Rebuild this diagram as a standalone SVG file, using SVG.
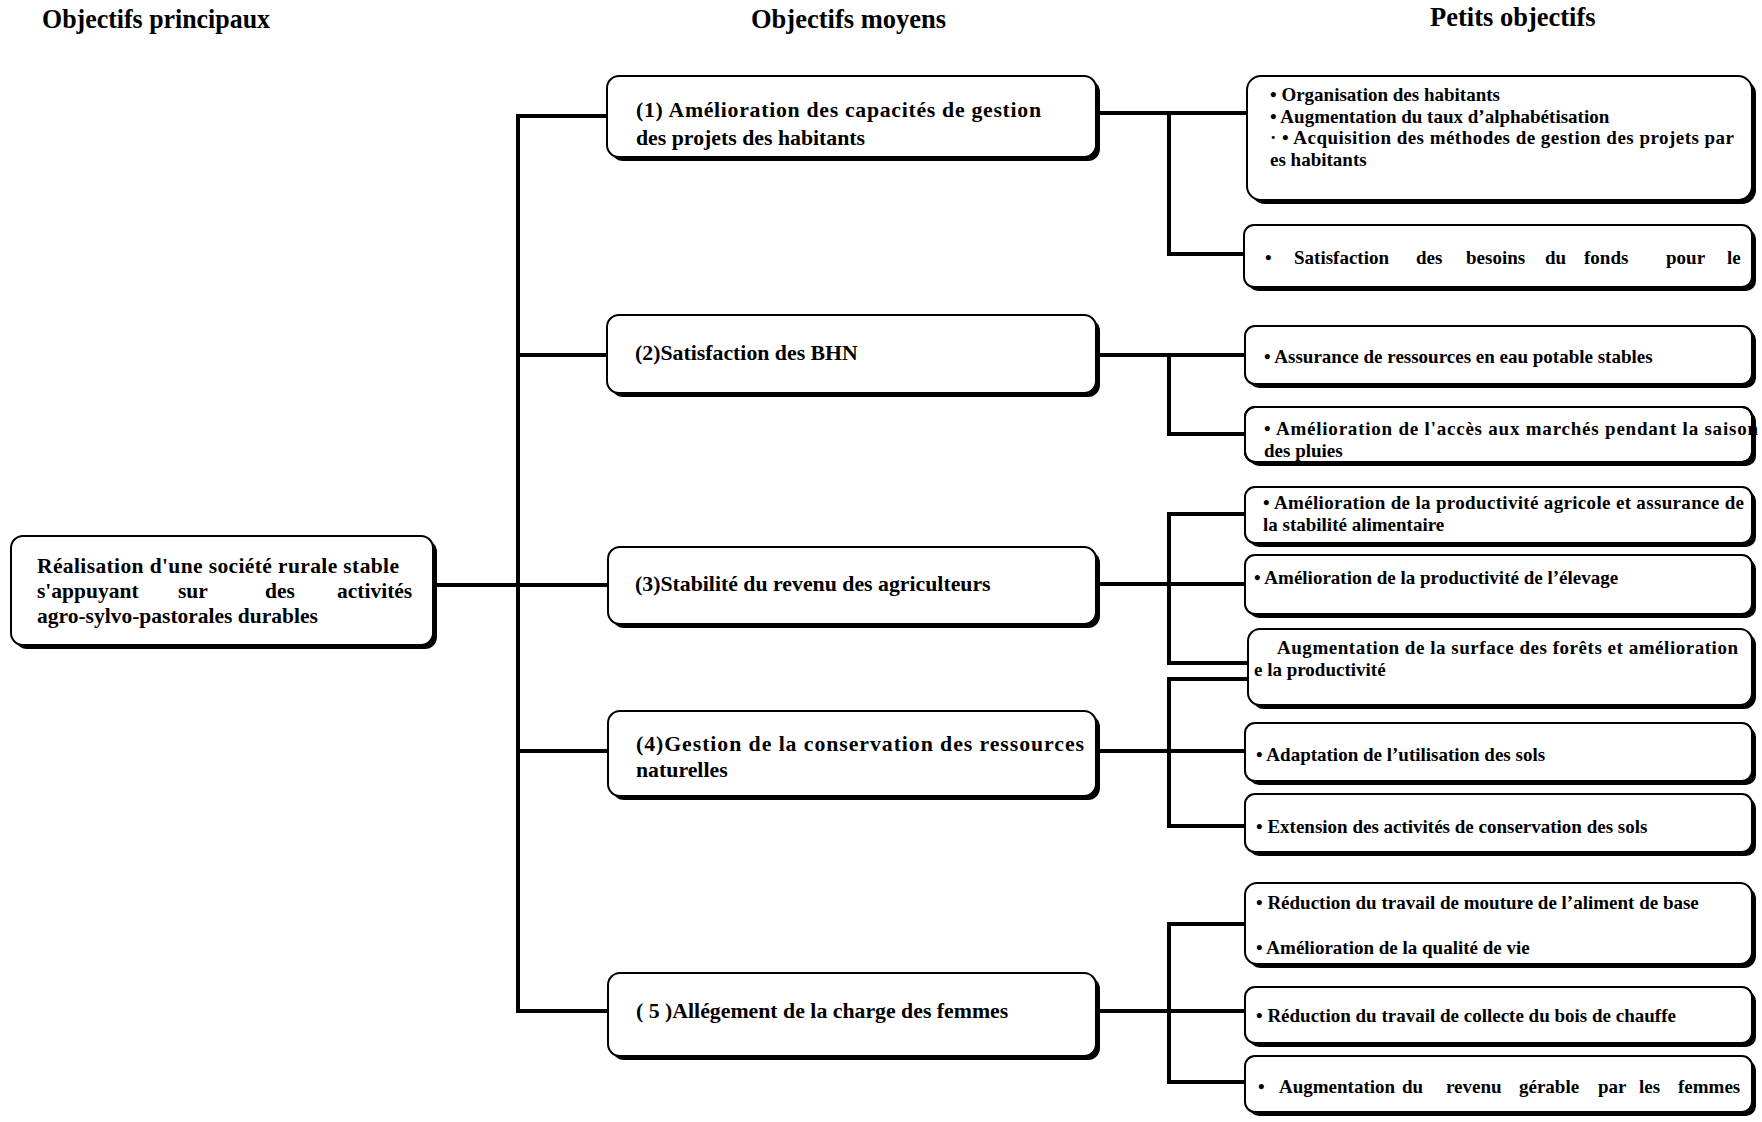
<svg xmlns="http://www.w3.org/2000/svg" width="1762" height="1122" viewBox="0 0 1762 1122">
<style>
.sh{fill:#000}
.bx{fill:#fff;stroke:#000;stroke-width:2}
.bo{fill:none;stroke:#000;stroke-width:2}
.t{font-family:"Liberation Serif","Times New Roman",serif;font-weight:bold;fill:#000}
.ti{font-size:26.5px}
.mm{font-size:21.5px}
.m{font-size:21.8px}
.s{font-size:19px}
.c{stroke:#000;stroke-width:4;fill:none;stroke-linecap:square}
</style>
<rect width="1762" height="1122" fill="#fff"/>
<g id="titles">
<text class="t ti" x="42" y="28" textLength="228" lengthAdjust="spacingAndGlyphs">Objectifs principaux</text>
<text class="t ti" x="751" y="28">Objectifs moyens</text>
<text class="t ti" x="1430" y="26">Petits objectifs</text>
</g>
<g id="connectors">
<path class="c" d="M433,585 H607"/>
<path class="c" d="M518,116 V1011"/>
<path class="c" d="M518,116 H607 M518,355 H607 M518,751 H608 M518,1011 H608"/>
<path class="c" d="M1096,113 H1247 M1169,113 V254 H1244"/>
<path class="c" d="M1096,355 H1245 M1169,355 V434 H1245"/>
<path class="c" d="M1096,584 H1245 M1169,514 V663 M1169,514 H1245 M1169,663 H1248"/>
<path class="c" d="M1096,751 H1245 M1169,679 V826 M1169,679 H1248 M1169,826 H1245"/>
<path class="c" d="M1096,1011 H1245 M1169,924 V1082 M1169,924 H1245 M1169,1082 H1245"/>
</g>
<g id="main">
<rect class="sh" x="15" y="540" width="422" height="109" rx="12"/>
<rect class="bx" x="11" y="536" width="422" height="109" rx="12"/>
<text class="t mm" x="37" y="573" textLength="362" lengthAdjust="spacing">Réalisation d'une société rurale stable</text>
<text class="t mm" y="598"><tspan x="37">s'appuyant</tspan><tspan x="178">sur</tspan><tspan x="265">des</tspan><tspan x="337">activités</tspan></text>
<text class="t mm" x="37" y="623">agro-sylvo-pastorales durables</text>
</g>
<g id="m1">
<rect class="sh" x="611" y="80" width="489" height="81" rx="12"/>
<rect class="bx" x="607" y="76" width="489" height="81" rx="12"/>
<text class="t m" x="636" y="117" textLength="405" lengthAdjust="spacing">(1) Amélioration des capacités de gestion</text>
<text class="t m" x="636" y="145">des projets des habitants</text>
</g>
<g id="m2">
<rect class="sh" x="611" y="319" width="489" height="78" rx="12"/>
<rect class="bx" x="607" y="315" width="489" height="78" rx="12"/>
<text class="t m" x="635" y="360">(2)Satisfaction des BHN</text>
</g>
<g id="m3">
<rect class="sh" x="612" y="551" width="488" height="77" rx="12"/>
<rect class="bx" x="608" y="547" width="488" height="77" rx="12"/>
<text class="t m" x="635" y="591">(3)Stabilité du revenu des agriculteurs</text>
</g>
<g id="m4">
<rect class="sh" x="612" y="715" width="488" height="85" rx="12"/>
<rect class="bx" x="608" y="711" width="488" height="85" rx="12"/>
<text class="t m" x="636" y="751" textLength="448" lengthAdjust="spacing">(4)Gestion de la conservation des ressources</text>
<text class="t m" x="636" y="777">naturelles</text>
</g>
<g id="m5">
<rect class="sh" x="612" y="977" width="488" height="83" rx="12"/>
<rect class="bx" x="608" y="973" width="488" height="83" rx="12"/>
<text class="t m" x="636" y="1018">( 5 )Allégement de la charge des femmes</text>
</g>
<g id="pA">
<rect class="sh" x="1251" y="80" width="505" height="124" rx="14"/>
<rect class="bx" x="1247" y="76" width="505" height="124" rx="14"/>
<text class="t s" x="1270" y="101">• Organisation des habitants</text>
<text class="t s" x="1270" y="123">• Augmentation du taux d’alphabétisation</text>
<text class="t s" x="1270" y="144" textLength="464" lengthAdjust="spacing">· • Acquisition des méthodes de gestion des projets par</text>
<text class="t s" x="1270" y="166">es habitants</text>
</g>
<g id="pB">
<rect class="sh" x="1248" y="229" width="508" height="62" rx="10"/>
<rect class="bx" x="1244" y="225" width="508" height="62" rx="10"/>
<text class="t s" y="264"><tspan x="1265">•</tspan><tspan x="1294">Satisfaction</tspan><tspan x="1416">des</tspan><tspan x="1466">besoins</tspan><tspan x="1545">du</tspan><tspan x="1584">fonds</tspan><tspan x="1666">pour</tspan><tspan x="1727">le</tspan></text>
</g>
<g id="pC">
<rect class="sh" x="1249" y="330" width="507" height="58" rx="10"/>
<rect class="bx" x="1245" y="326" width="507" height="58" rx="10"/>
<text class="t s" x="1264" y="363">• Assurance de ressources en eau potable stables</text>
</g>
<g id="pD">
<rect class="sh" x="1249" y="411" width="507" height="55" rx="10"/>
<rect class="bx" x="1245" y="407" width="507" height="55" rx="10"/>
<text class="t s" x="1264" y="435" textLength="494" lengthAdjust="spacing">• Amélioration de l'accès aux marchés pendant la saison</text>
<text class="t s" x="1264" y="457">des pluies</text>
<rect class="bo" x="1245" y="407" width="507" height="55" rx="10"/>
</g>
<g id="pE">
<rect class="sh" x="1249" y="491" width="507" height="56" rx="10"/>
<rect class="bx" x="1245" y="487" width="507" height="56" rx="10"/>
<text class="t s" x="1263" y="509" textLength="481" lengthAdjust="spacing">• Amélioration de la productivité agricole et assurance de</text>
<text class="t s" x="1263" y="531">la stabilité alimentaire</text>
</g>
<g id="pF">
<rect class="sh" x="1249" y="559" width="507" height="59" rx="10"/>
<rect class="bx" x="1245" y="555" width="507" height="59" rx="10"/>
<text class="t s" x="1254" y="584">• Amélioration de la productivité de l’élevage</text>
</g>
<g id="pG">
<rect class="sh" x="1252" y="633" width="504" height="76" rx="12"/>
<rect class="bx" x="1248" y="629" width="504" height="76" rx="12"/>
<text class="t s" x="1277" y="654" textLength="461" lengthAdjust="spacing">Augmentation de la surface des forêts et amélioration</text>
<text class="t s" x="1254" y="676">e la productivité</text>
</g>
<g id="pH">
<rect class="sh" x="1249" y="727" width="507" height="58" rx="10"/>
<rect class="bx" x="1245" y="723" width="507" height="58" rx="10"/>
<text class="t s" x="1256" y="761">• Adaptation de l’utilisation des sols</text>
</g>
<g id="pI">
<rect class="sh" x="1249" y="798" width="507" height="58" rx="10"/>
<rect class="bx" x="1245" y="794" width="507" height="58" rx="10"/>
<text class="t s" x="1256" y="833">• Extension des activités de conservation des sols</text>
</g>
<g id="pJ">
<rect class="sh" x="1249" y="887" width="507" height="81" rx="12"/>
<rect class="bx" x="1245" y="883" width="507" height="81" rx="12"/>
<text class="t s" x="1256" y="909">• Réduction du travail de mouture de l’aliment de base</text>
<text class="t s" x="1256" y="954">• Amélioration de la qualité de vie</text>
</g>
<g id="pK">
<rect class="sh" x="1249" y="991" width="507" height="56" rx="10"/>
<rect class="bx" x="1245" y="987" width="507" height="56" rx="10"/>
<text class="t s" x="1256" y="1022">• Réduction du travail de collecte du bois de chauffe</text>
</g>
<g id="pL">
<rect class="sh" x="1249" y="1060" width="507" height="56" rx="10"/>
<rect class="bx" x="1245" y="1056" width="507" height="56" rx="10"/>
<text class="t s" y="1093"><tspan x="1258">•</tspan><tspan x="1279">Augmentation</tspan><tspan x="1402">du</tspan><tspan x="1446">revenu</tspan><tspan x="1519">gérable</tspan><tspan x="1598">par</tspan><tspan x="1639">les</tspan><tspan x="1678">femmes</tspan></text>
</g>
</svg>
